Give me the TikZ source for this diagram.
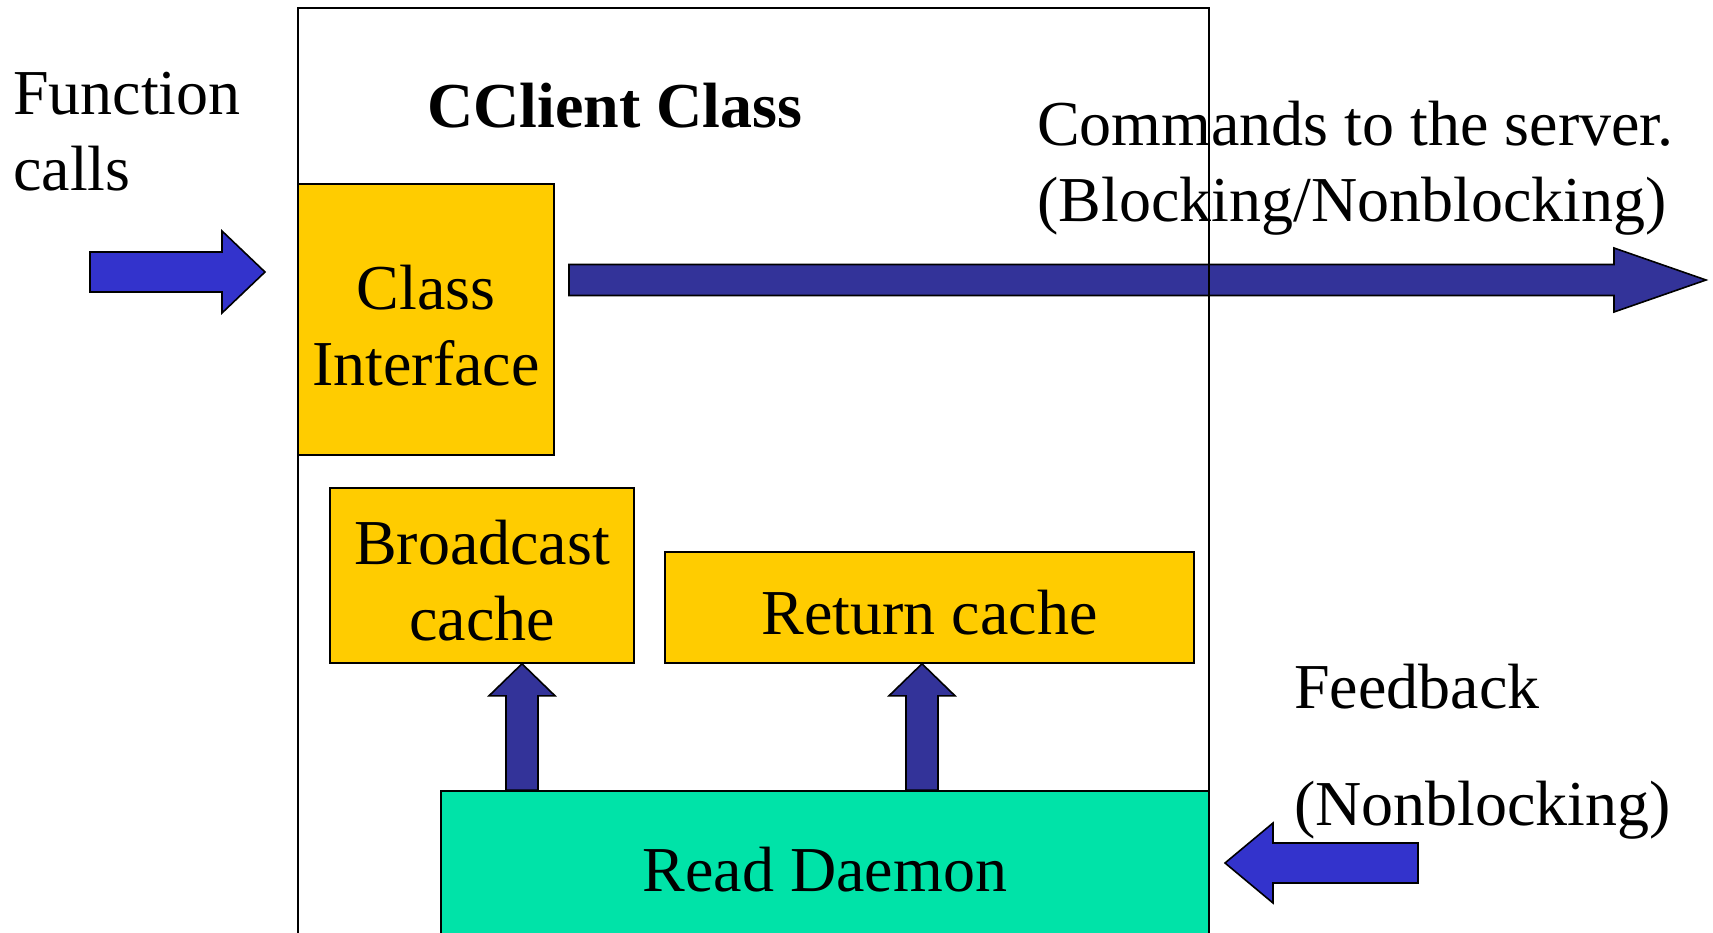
\documentclass[tikz,border=0pt]{standalone}
\usepackage{fontspec}
\setmainfont{Liberation Serif}
\usetikzlibrary{calc,positioning}

\definecolor{cacheyellow}{RGB}{255,204,0}
\definecolor{daemongreen}{RGB}{0,227,168}
\definecolor{callblue}{RGB}{51,51,204}
\definecolor{cmdblue}{RGB}{51,51,153}

% fat block arrow: from, to, shaft half width, head half width, head length, colour
\newcommand{\fatarrow}[6]{%
  \coordinate (fa-h) at ($(#2)!#5!(#1)$);
  \draw[fill=#6,line width=1.6pt,line join=miter]
    ($(#1)!#3!90:(#2)$) -- ($(fa-h)!#3!90:(#2)$) -- ($(fa-h)!#4!90:(#2)$)
    -- (#2) -- ($(fa-h)!#4!-90:(#2)$) -- ($(fa-h)!#3!-90:(#2)$)
    -- ($(#1)!#3!-90:(#2)$) -- cycle;
}

\begin{document}
\begin{tikzpicture}
  [x=1pt,y=-1pt,
   every node/.style={font=\fontsize{64}{76.5}\selectfont},
   box/.style={draw,line width=1.6pt,inner sep=0pt},
   box text/.style={inner sep=0pt,align=center},
   label text/.style={inner sep=0pt,align=left,anchor=base west}]
  \useasboundingbox (0,0) rectangle (1713,933);
  \fill[white] (0,0) rectangle (1713,933);
  \clip (0,0) rectangle (1713,933);

  % boxes inside the class
  \node[box,fill=cacheyellow,minimum width=256pt,minimum height=271pt] (iface) at (426,319.5) {};
  \node[box,fill=cacheyellow,minimum width=304pt,minimum height=175pt] (bcast) at (482,575.5) {};
  \node[box,fill=cacheyellow,minimum width=529pt,minimum height=111pt] (ret) at (929.5,607.5) {};
  \node[box,fill=daemongreen,minimum width=768pt,minimum height=160pt] (daemon) at (825,871) {};

  \node[box text] (iface-txt) at ([yshift=-6pt]iface.center) {Class\\Interface};
  \node[box text] (bcast-txt) at ([yshift=-5pt]bcast.center) {Broadcast\\cache};
  \node[box text] (ret-txt) at ([yshift=-5pt]ret.center) {Return cache};
  \node[box text] (daemon-txt) at ([yshift=1pt]daemon.center) {Read Daemon};

  % texts
  \node[label text] (calls) at (13,191) {Function\\calls};
  \node[label text,font=\fontsize{64}{76.5}\selectfont\bfseries] (title) at (427,128) {CClient Class};
  \node[label text] (cmds) at (1037,222) {Commands to the server.\\(Blocking/Nonblocking)};
  \node[label text] (fb) at (1294,708) {Feedback};
  \node[label text] (fbnb) at (1294,825) {(Nonblocking)};

  % arrows
  \coordinate (fc-a) at (90,272);
  \coordinate (fc-b) at (265,272);
  \fatarrow{fc-a}{fc-b}{20pt}{41pt}{43pt}{callblue}

  \coordinate (cmd-a) at (569,280);
  \coordinate (cmd-b) at (1706,280);
  \fatarrow{cmd-a}{cmd-b}{15.5pt}{32pt}{92pt}{cmdblue}

  \coordinate (u1) at (522,0);
  \coordinate (up1-a) at (u1 |- daemon.north);
  \coordinate (up1-b) at (u1 |- bcast.south);
  \fatarrow{up1-a}{up1-b}{16pt}{33pt}{32pt}{cmdblue}

  \coordinate (u2) at (922,0);
  \coordinate (up2-a) at (u2 |- daemon.north);
  \coordinate (up2-b) at (u2 |- ret.south);
  \fatarrow{up2-a}{up2-b}{16pt}{33pt}{32pt}{cmdblue}

  \coordinate (fb-a) at (1418,863);
  \coordinate (fb-b) at (1225,863);
  \fatarrow{fb-a}{fb-b}{20pt}{40pt}{48pt}{callblue}

  % class outline on top
  \node[draw,line width=1.4pt,inner sep=0pt,minimum width=911pt,minimum height=940pt] (cclient) at (753.5,478) {};
\end{tikzpicture}
\end{document}
